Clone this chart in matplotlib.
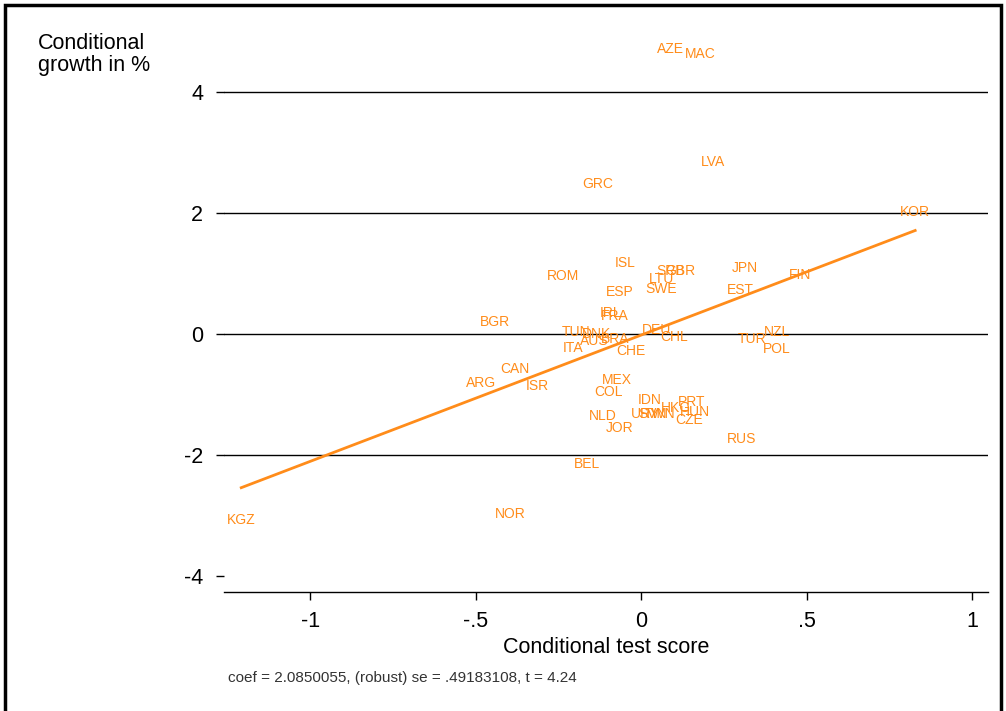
import matplotlib
matplotlib.use("Agg")
from matplotlib import pyplot as plt
import matplotlib.patches as patches
import numpy as np

# DATA: country codes, conditional test score (x), conditional growth (y)
countries = ["AZE", "MAC", "LVA", "GRC", "KOR", "ISL", "ROM", "GBR", "SRB",
             "JPN", "FIN", "LTU", "SWE", "ESP", "EST", "IRL", "FRA", "BGR",
             "TUN", "DNK", "AUS", "BRA", "DEU", "CHL", "ITA", "CHE", "TUR",
             "NZL", "POL", "CAN", "ARG", "ISR", "MEX", "COL", "IDN", "HKG",
             "PRT", "HUN", "CZE", "URY", "SVN", "TWN", "NLD", "JOR", "RUS",
             "BEL", "NOR", "KGZ"]
test_score = [0.088, 0.178, 0.218, -0.130, 0.828, -0.048, -0.236, 0.118, 0.090,
              0.314, 0.480, 0.063, 0.060, -0.063, 0.299, -0.091, -0.079, -0.441,
              -0.196, -0.135, -0.140, -0.078, 0.048, 0.100, -0.205, -0.030, 0.335,
              0.411, 0.411, -0.381, -0.483, -0.314, -0.073, -0.097, 0.027, 0.106,
              0.154, 0.163, 0.145, 0.012, 0.035, 0.055, -0.115, -0.066, 0.305,
              -0.163, -0.396, -1.208]
growth = [4.70, 4.62, 2.84, 2.48, 2.01, 1.17, 0.96, 1.03, 1.03,
          1.09, 0.97, 0.91, 0.74, 0.69, 0.73, 0.35, 0.30, 0.20,
          0.03, 0.00, -0.11, -0.08, 0.07, -0.05, -0.23, -0.28, -0.08,
          0.03, -0.25, -0.58, -0.81, -0.86, -0.76, -0.96, -1.09, -1.22,
          -1.12, -1.29, -1.42, -1.32, -1.32, -1.32, -1.35, -1.55, -1.73,
          -2.15, -2.97, -3.07]

coef = 2.0850055
intercept = -0.02
se = 0.49183108
tstat = 4.24

orange = "#ff8c1a"
plt.rcParams["font.family"] = ["Liberation Sans", "DejaVu Sans"]

fig = plt.figure(figsize=(10.06, 7.11), dpi=100)
ax = fig.add_axes([0.2227, 0.1674, 0.7594, 0.7763])

# GRID LINES (NOT AT -4)
for yv in [-2, 0, 2, 4]:
    ax.axhline(yv, color="black", lw=1.0, zorder=1)

# LABELS AS MARKERS
for c, xv, yv in zip(countries, test_score, growth):
    ax.text(xv, yv, c, color=orange, fontsize=10, ha="center", va="center", zorder=3)

# FITTED LINE
xs = np.array([min(test_score), max(test_score)])
ax.plot(xs, intercept + coef * xs, color=orange, lw=2, zorder=2)

ax.set_xlim(-1.26, 1.048)
ax.set_ylim(-4.26, 4.85)
ax.set_xticks([-1, -0.5, 0, 0.5, 1])
ax.set_xticklabels(["-1", "-.5", "0", ".5", "1"], fontsize=15.5)
ax.set_yticks([-4, -2, 0, 2, 4])
ax.set_yticklabels(["-4", "-2", "0", "2", "4"], fontsize=15.5)
ax.tick_params(axis="both", direction="out", length=6, width=1, color="black")
ax.tick_params(axis="y", pad=9)
ax.tick_params(axis="x", pad=8)
for s in ["left", "top", "right"]:
    ax.spines[s].set_visible(False)
ax.spines["bottom"].set_linewidth(1.0)

ax.set_xlabel("Conditional test score", fontsize=15.5, labelpad=3)
fig.text(0.038, 0.953, "Conditional\ngrowth in %", fontsize=15.5, ha="left", va="top",
         linespacing=1.05)
fig.text(0.227, 0.047, "coef = 2.0850055, (robust) se = .49183108, t = 4.24",
         fontsize=11, color="#333333", ha="left", va="center")

# OUTER FRAME
fig.patches.append(patches.Rectangle((0.005, -0.01), 0.99, 1.003, transform=fig.transFigure,
                                     fill=False, edgecolor="black", lw=2.5))

fig.savefig("out.png", dpi=100)
